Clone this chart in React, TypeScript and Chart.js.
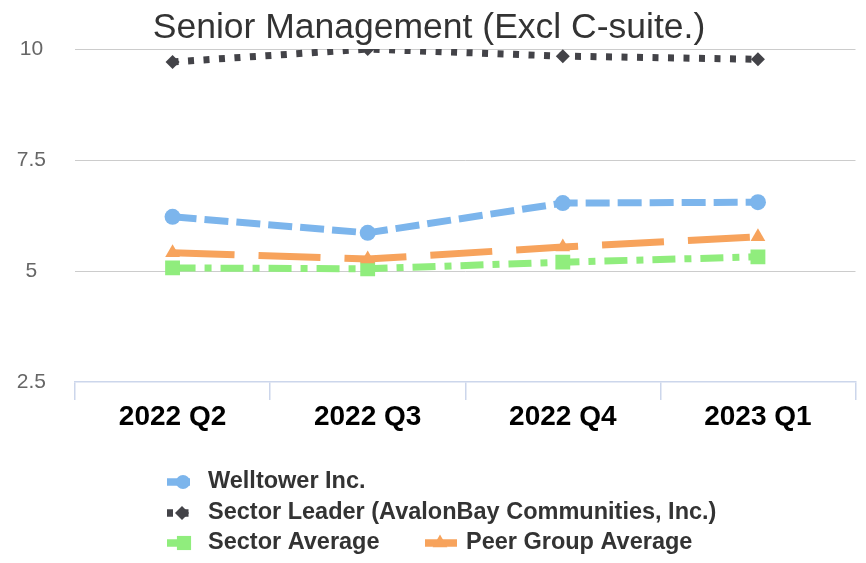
import React, { useEffect, useRef } from 'react';
import { Chart, registerables } from 'chart.js';

Chart.register(...registerables);

const chartTitle = 'Senior Management (Excl C-suite.)';
const categories = ['2022 Q2', '2022 Q3', '2022 Q4', '2023 Q1'];
const welltower = [6.22, 5.86, 6.53, 6.55];
const sectorLeader = [9.71, 10.0, 9.84, 9.77];
const sectorAverage = [5.07, 5.05, 5.2, 5.32];
const peerGroupAverage = [5.41, 5.27, 5.54, 5.77];
const seriesNames = [
  'Welltower Inc.',
  'Sector Leader (AvalonBay Communities, Inc.)',
  'Sector Average',
  'Peer Group Average',
];
const yMin = 2.5;
const yMax = 10;
const yStep = 2.5;

const FONT = '"Liberation Sans", Arial, Helvetica, sans-serif';

function drawMarker(ctx: CanvasRenderingContext2D, style: string, x: number, y: number, r: number) {
  ctx.beginPath();
  if (style === 'circle') {
    ctx.arc(x, y, r, 0, Math.PI * 2);
  } else if (style === 'rectRot') {
    ctx.moveTo(x, y - r);
    ctx.lineTo(x + r, y);
    ctx.lineTo(x, y + r);
    ctx.lineTo(x - r, y);
    ctx.closePath();
  } else if (style === 'rect') {
    const s = r * Math.SQRT1_2;
    ctx.rect(x - s, y - s, 2 * s, 2 * s);
  } else if (style === 'triangle') {
    let rad = 0;
    ctx.moveTo(x + Math.sin(rad) * r, y - Math.cos(rad) * r);
    rad += (Math.PI * 2) / 3;
    ctx.lineTo(x + Math.sin(rad) * r, y - Math.cos(rad) * r);
    rad += (Math.PI * 2) / 3;
    ctx.lineTo(x + Math.sin(rad) * r, y - Math.cos(rad) * r);
    ctx.closePath();
  }
  ctx.fill();
}

const legendSlots = [
  { x: 167, y: 482, len: 23, mx: 183 },
  { x: 167, y: 513, len: 23, mx: 182 },
  { x: 167, y: 543, len: 23, mx: 184 },
  { x: 425, y: 543, len: 32, mx: 440 },
];

const customLegend = {
  id: 'customLegend',
  afterDraw(chart: any) {
    const ctx: CanvasRenderingContext2D = chart.ctx;
    chart.data.datasets.forEach((ds: any, i: number) => {
      const s = legendSlots[i];
      if (!s) return;
      ctx.save();
      ctx.strokeStyle = ds.borderColor;
      ctx.fillStyle = ds.borderColor;
      ctx.lineWidth = 7.5;
      ctx.setLineDash(ds.borderDash || []);
      ctx.beginPath();
      ctx.moveTo(s.x, s.y);
      ctx.lineTo(s.x + s.len, s.y);
      ctx.stroke();
      ctx.setLineDash([]);
      drawMarker(ctx, ds.pointStyle, s.mx, s.y, ds.legendRadius);
      ctx.font = `bold 23.5px ${FONT}`;
      ctx.fillStyle = '#333333';
      ctx.textBaseline = 'middle';
      ctx.textAlign = 'left';
      ctx.fillText(ds.label, s.x + 41, s.y);
      ctx.restore();
    });
  },
};

export default function App() {
  const ref = useRef<HTMLCanvasElement | null>(null);

  useEffect(() => {
    if (!ref.current) return;
    const mk = (
      label: string,
      data: number[],
      color: string,
      dash: number[],
      width: number,
      pointStyle: string,
      radius: number,
      legendRadius: number,
      order: number
    ) => ({
      label,
      data,
      borderColor: color,
      backgroundColor: color,
      pointBackgroundColor: color,
      pointBorderColor: color,
      pointBorderWidth: 0,
      borderWidth: width,
      borderDash: dash,
      pointStyle,
      pointRadius: radius,
      pointHoverRadius: radius,
      legendRadius,
      tension: 0,
      fill: false,
      order,
    });

    const chart = new Chart(ref.current, {
      type: 'line',
      data: {
        labels: categories,
        datasets: [
          mk(seriesNames[0], welltower, '#7cb5ec', [24, 8], 7, 'circle', 8, 7, 4),
          mk(seriesNames[1], sectorLeader, '#434348', [6, 9.5], 7, 'rectRot', 7, 7, 3),
          mk(seriesNames[2], sectorAverage, '#90ed7d', [23, 9, 7, 9], 7, 'rect', 10.5, 10, 2),
          mk(seriesNames[3], peerGroupAverage, '#f7a35c', [62, 24], 7, 'triangle', 8.5, 8.5, 1),
        ] as any,
      },
      options: {
        animation: false,
        responsive: true,
        maintainAspectRatio: false,
        layout: { padding: { left: 0, right: 8, top: 0, bottom: 111 } },
        plugins: {
          legend: { display: false },
          tooltip: { enabled: false },
          title: {
            display: true,
            text: chartTitle,
            color: '#333333',
            font: { family: FONT, size: 35.5, weight: 'normal', lineHeight: 1.1 },
            padding: { top: 9, bottom: 1 },
          },
        },
        scales: {
          x: {
            offset: true,
            grid: {
              offset: true,
              drawOnChartArea: false,
              drawTicks: true,
              tickLength: 18,
              color: '#ccd6eb',
              lineWidth: 1.5,
            },
            border: { display: true, color: '#ccd6eb', width: 1.5 },
            ticks: {
              color: '#000000',
              padding: 0,
              maxRotation: 0,
              font: { family: FONT, size: 28, weight: 'bold' },
            },
            afterFit: (scale: any) => {
              scale.height = 70;
            },
          },
          y: {
            min: yMin,
            max: yMax,
            border: { display: false },
            grid: {
              drawTicks: false,
              color: (c: any) => (c.tick && c.tick.value === yMin ? 'rgba(0,0,0,0)' : '#cccccc'),
              lineWidth: 1,
            },
            ticks: {
              stepSize: yStep,
              color: '#666666',
              padding: 29,
              crossAlign: 'center',
              font: { family: FONT, size: 21 },
            },
            afterFit: (scale: any) => {
              scale.width = 75;
            },
          },
        },
      } as any,
      plugins: [customLegend],
    });
    return () => chart.destroy();
  }, []);

  return (
    <div style={{ position: 'fixed', left: 0, top: 0, width: 866, height: 563, background: '#ffffff' }}>
      <canvas ref={ref} />
    </div>
  );
}
